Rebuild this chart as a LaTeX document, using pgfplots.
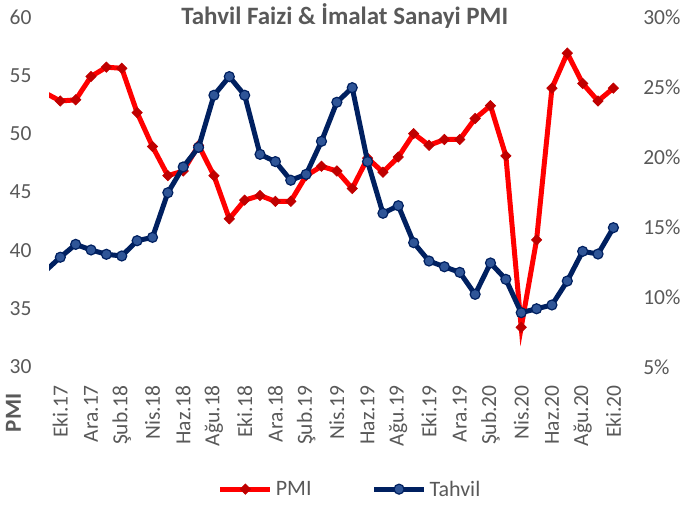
\documentclass[border=0pt]{standalone}
\usepackage{fontspec}
\setmainfont{Carlito}
\usepackage{pgfplots}
\usepackage{pgfplotstable}
\pgfplotsset{compat=1.18}
\definecolor{pmired}{HTML}{FF0000}
\definecolor{pmimark}{HTML}{C00000}
\definecolor{navy}{HTML}{002060}
\definecolor{tblue}{HTML}{2F5597}
\definecolor{txtgray}{HTML}{595959}

\pgfplotstableread{
x pmi tahvil
-1 53.5 11.83
0 52.8 12.84
1 52.9 13.76
2 54.9 13.36
3 55.7 13.05
4 55.6 12.93
5 51.8 14.02
6 48.9 14.26
7 46.4 17.45
8 46.8 19.29
9 49.0 20.69
10 46.4 24.41
11 42.7 25.74
12 44.3 24.41
13 44.7 20.19
14 44.2 19.67
15 44.2 18.34
16 46.4 18.76
17 47.2 21.12
18 46.8 23.91
19 45.3 24.95
20 47.9 19.67
21 46.7 15.98
22 48.0 16.52
23 50.0 13.88
24 49.0 12.57
25 49.5 12.16
26 49.5 11.76
27 51.3 10.19
28 52.4 12.43
29 48.1 11.26
30 33.4 8.88
31 40.9 9.16
32 53.9 9.43
33 56.9 11.14
34 54.3 13.26
35 52.8 13.07
36 53.9 14.95
}\data

\pgfplotsset{
  pmistyle/.style={color=pmired, line width=5bp, mark=square*, mark size=3.6bp,
    mark options={rotate=45, fill=pmimark, draw=pmimark, line width=0.8bp}},
  tstyle/.style={color=navy, line width=5bp, mark=*, mark size=5bp,
    mark options={fill=tblue, draw=navy, line width=1.2bp}},
  common/.style={
    scale only axis, width=575.5bp, height=350bp,
    at={(49.1bp,139bp)}, anchor=south west,
    xmin=-0.73, xmax=36.73,
    axis line style={draw=none}, tick style={draw=none}, major tick length=0pt,
    clip marker paths=true,
    /pgf/number format/assume math mode=true,
    tick label style={font=\fontsize{21.5bp}{26bp}\selectfont, text=txtgray, inner sep=0pt},
  },
}

\begin{document}
\begin{tikzpicture}
\begin{axis}[common,
  ymin=30, ymax=60, ytick={30,35,...,60},
  yticklabel shift=17.4bp,
  xtick={0,2,...,36},
  xticklabels={Eki.17,Ara.17,Şub.18,Nis.18,Haz.18,Ağu.18,Eki.18,Ara.18,Şub.19,Nis.19,Haz.19,Ağu.19,Eki.19,Ara.19,Şub.20,Nis.20,Haz.20,Ağu.20,Eki.20},
  xticklabel style={rotate=90, anchor=east},
  xticklabel shift=18bp,
  title={Tahvil Faizi \& İmalat Sanayi PMI},
  title style={at={(axis description cs:0.5137,0.9617)}, anchor=base, inner sep=0pt,
    font=\bfseries\fontsize{25bp}{30bp}\selectfont, text=txtgray},
  ylabel={PMI},
  ylabel style={at={(axis description cs:-0.0622,-0.131)}, anchor=center, rotate=0, inner sep=0pt,
    font=\bfseries\fontsize{23bp}{28bp}\selectfont, text=txtgray},
  legend columns=-1,
  legend style={at={(axis description cs:0.523,-0.349)}, anchor=center, draw=none, fill=none,
    font=\fontsize{22bp}{26bp}\selectfont, text=txtgray,
    /tikz/every odd column/.append style={column sep=1bp},
    /tikz/every even column/.append style={column sep=58bp}},
  legend image code/.code={\draw[mark repeat=2,mark phase=2,#1] plot coordinates {(0bp,0bp) (25bp,0bp) (50bp,0bp)};},
]
\addplot[pmistyle] table[x=x, y=pmi] {\data};
\addlegendentry{PMI}
\addlegendimage{tstyle}
\addlegendentry{Tahvil}
\end{axis}
\begin{axis}[common,
  ymin=5, ymax=30, ytick={5,10,...,30},
  yticklabel pos=right,
  yticklabel={\pgfmathprintnumber{\tick}\%},
  yticklabel shift=18.5bp,
  xtick=\empty,
]
\addplot[tstyle] table[x=x, y=tahvil] {\data};
\end{axis}
\pgfresetboundingbox
\useasboundingbox (0,0) rectangle (682bp,506bp);
\end{tikzpicture}
\end{document}
